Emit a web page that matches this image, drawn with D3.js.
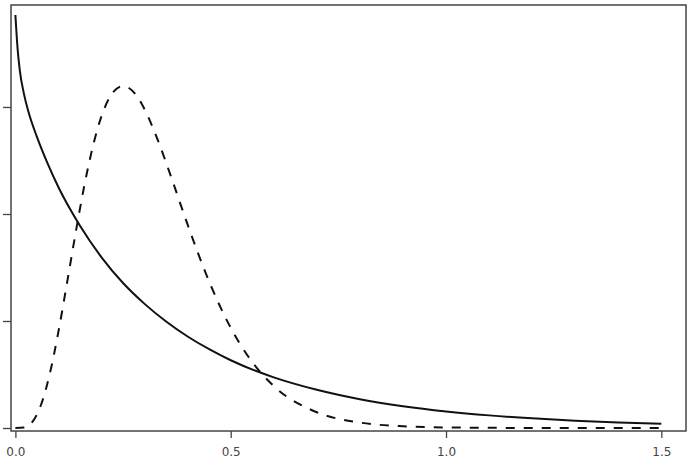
<!DOCTYPE html>
<html>
<head>
<meta charset="utf-8">
<script src="https://cdn.jsdelivr.net/npm/d3@7"></script>
<style>
	html, body { margin: 0; padding: 0; background: #fff; }
	svg { display: block; font-family: "DejaVu Sans", sans-serif; }
	.tick line { stroke: #444; }
</style>
</head>
<body>
<div id="chart"></div>
<script>
// values
const xTicks = [0, 0.5, 1.0, 1.5];
const yTicks = [0, 1, 2, 3];

const solidX = [0, 0.005, 0.01, 0.02, 0.03, 0.05, 0.075, 0.1, 0.125, 0.15, 0.2, 0.25, 0.3, 0.35, 0.4, 0.45, 0.5, 0.6, 0.7, 0.8, 0.9, 1.0, 1.1, 1.2, 1.3, 1.4, 1.5];
const solidY = [3.86, 3.55, 3.35, 3.12, 2.96, 2.72, 2.47, 2.25, 2.06, 1.89, 1.595, 1.355, 1.16, 0.995, 0.855, 0.736, 0.633, 0.473, 0.357, 0.269, 0.204, 0.155, 0.118, 0.09, 0.068, 0.052, 0.04];

const dashX = [0, 0.02, 0.04, 0.06, 0.08, 0.1, 0.12, 0.14, 0.16, 0.18, 0.2, 0.22, 0.25, 0.28, 0.3, 0.33, 0.36, 0.4, 0.45, 0.5, 0.55, 0.6, 0.7, 0.8, 0.9, 1.0, 1.2, 1.5];
const dashY = [0, 0.005, 0.06, 0.222, 0.509, 0.902, 1.358, 1.826, 2.263, 2.633, 2.914, 3.097, 3.196, 3.113, 2.978, 2.698, 2.365, 1.9, 1.368, 0.937, 0.616, 0.392, 0.147, 0.051, 0.016, 0.005, 0.0004, 0];

const W = 697, H = 458;
const box = { left: 11, top: 5, right: 686, bottom: 431 };

const svg = d3.select('#chart')
	.append('svg')
	.attr('width', W)
	.attr('height', H)
	.attr('viewBox', `0 0 ${W} ${H}`);

const x = d3.scaleLinear()
	.domain([-0.0102, 1.5573])
	.range([box.left, box.right]);

const y = d3.scaleLinear()
	.domain([-0.028, 3.953])
	.range([box.bottom, box.top]);

svg.append('clipPath')
	.attr('id', 'plot')
	.append('rect')
	.attr('x', box.left)
	.attr('y', box.top)
	.attr('width', box.right - box.left)
	.attr('height', box.bottom - box.top);

const line = d3.line()
	.x(d => x(d[0]))
	.y(d => y(d[1]))
	.curve(d3.curveMonotoneX);

const g = svg.append('g').attr('clip-path', 'url(#plot)');

g.append('path')
	.datum(solidX.map((v, i) => [v, solidY[i]]))
	.attr('d', line)
	.attr('fill', 'none')
	.attr('stroke', '#111')
	.attr('stroke-width', 2);

g.append('path')
	.datum(dashX.map((v, i) => [v, dashY[i]]))
	.attr('d', line)
	.attr('fill', 'none')
	.attr('stroke', '#111')
	.attr('stroke-width', 2)
	.attr('stroke-dasharray', '9,9');

// axes
const xAxis = svg.append('g')
	.attr('transform', `translate(0, ${box.bottom})`)
	.call(d3.axisBottom(x)
		.tickValues(xTicks)
		.tickFormat(d3.format('.1f'))
		.tickSize(7)
		.tickSizeOuter(0)
		.tickPadding(9));
xAxis.select('.domain').remove();
xAxis.attr('font-family', '"DejaVu Sans", sans-serif').attr('font-size', 12);
xAxis.selectAll('.tick text').attr('fill', '#444');

const yAxis = svg.append('g')
	.attr('transform', `translate(${box.left}, 0)`)
	.call(d3.axisLeft(y)
		.tickValues(yTicks)
		.tickFormat('')
		.tickSize(8)
		.tickSizeOuter(0));
yAxis.select('.domain').remove();

svg.selectAll('.tick line').attr('stroke-width', 1.3);

// frame
svg.append('rect')
	.attr('x', box.left)
	.attr('y', box.top)
	.attr('width', box.right - box.left)
	.attr('height', box.bottom - box.top)
	.attr('fill', 'none')
	.attr('stroke', '#444')
	.attr('stroke-width', 1.5);
</script>
</body>
</html>
